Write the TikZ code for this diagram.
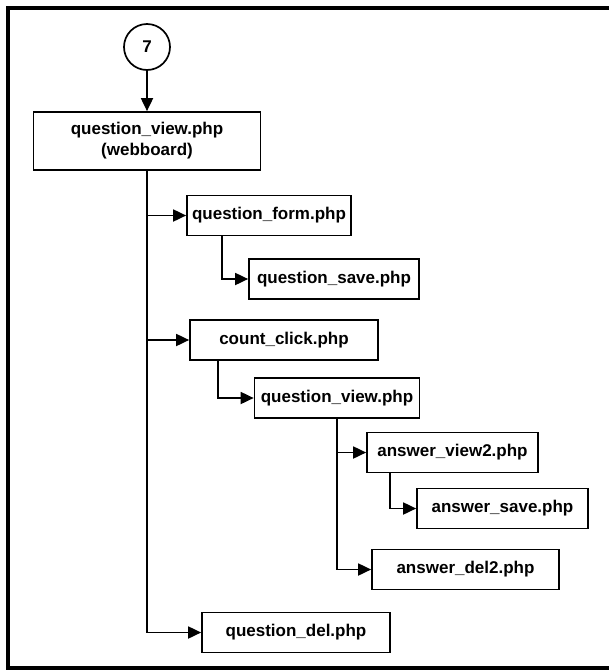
\documentclass[tikz,border=0pt]{standalone}
\usepackage{fontspec}
\setmainfont{Liberation Sans}
\usetikzlibrary{arrows.meta}

\begin{document}
\begin{tikzpicture}[
  x=1pt,y=-1pt,
  page/.style={line width=3.5pt,black},
  pbox/.style={draw,line width=1.7pt,inner sep=0pt,minimum height=40pt,align=center,
    font=\fontsize{17}{21}\selectfont\bfseries},
  conn/.style={draw,line width=1.7pt,inner sep=0pt,circle,minimum size=46pt,
    font=\fontsize{17}{21}\selectfont\bfseries},
  link/.style={-{Triangle[length=13pt,width=12pt]},line width=1.8pt},
]
  \useasboundingbox (0,0) rectangle (609,670);
  % page frame (open on the right)
  \draw[page] (609,8) -- (8,8) -- (8,668) -- (609,668);

  \node[conn] (c7) at (147,47) {7};
  \node[pbox,minimum width=227pt,minimum height=58pt] (qv1) at (147,141)
    {question\_view.php\\(webboard)};
  \node[pbox,minimum width=164pt] (qform) at (269,215.5) {question\_form.php};
  \node[pbox,minimum width=170pt] (qsave) at (334,279) {question\_save.php};
  \node[pbox,minimum width=188pt] (cclick) at (284,340) {count\_click.php};
  \node[pbox,minimum width=165pt] (qv2) at (337,398) {question\_view.php};
  \node[pbox,minimum width=171pt] (aview) at (452.5,452.5) {answer\_view2.php};
  \node[pbox,minimum width=171pt] (asave) at (502.5,508.5) {answer\_save.php};
  \node[pbox,minimum width=187pt] (adel) at (465.5,569.5) {answer\_del2.php};
  \node[pbox,minimum width=188pt] (qdel) at (296,632.5) {question\_del.php};

  % main branch
  \draw[link] (c7) -- (qv1);
  \draw[link] (qv1.south) |- (qform.west);
  \draw[link] (qv1.south) |- (cclick.west);
  \draw[link] (qv1.south) |- (qdel.west);

  % sub branches
  \draw[link] ([xshift=36pt]qform.south west) |- (qsave.west);
  \draw[link] ([xshift=29pt]cclick.south west) |- (qv2.west);
  \draw[link] (qv2.south) |- (aview.west);
  \draw[link] (qv2.south) |- (adel.west);
  \draw[link] ([xshift=24pt]aview.south west) |- (asave.west);
\end{tikzpicture}
\end{document}
